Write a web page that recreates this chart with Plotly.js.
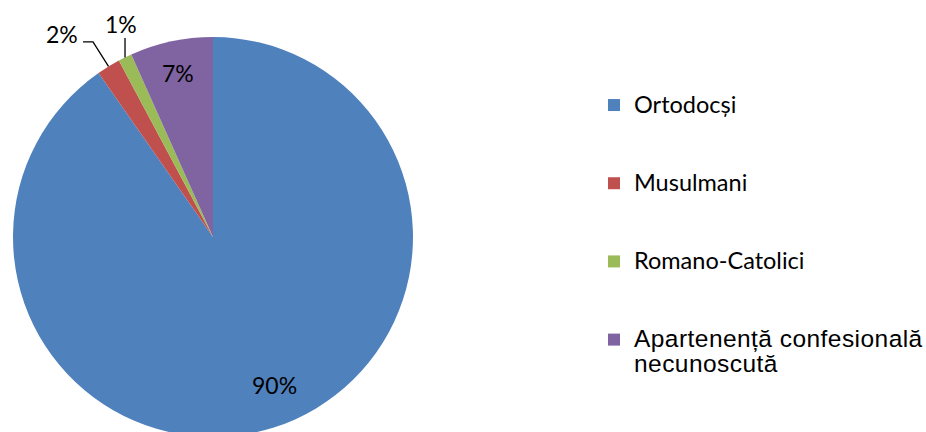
<!DOCTYPE html>
<html><head><meta charset="utf-8">
<script src="https://cdn.plot.ly/plotly-3.0.1.min.js"></script>
<style>html,body{margin:0;padding:0;overflow:hidden;background:#fff}#chart{width:926px;height:442px}</style>
</head><body><div id="chart"></div>
<script>
// ---- data ----
const categories = ['Ortodocși', 'Musulmani', 'Romano-Catolici', 'Apartenență confesională necunoscută'];
const shares = [90.3, 1.9, 1.1, 6.7];

// ---- style / layout ----
const sliceColors = ['#4F81BD', '#C0504D', '#9BBB59', '#8064A2'];
const W = 926, H = 442, CX = 213, CY = 237, R = 200;
const labelSpecs = [
  {mode: 'inside', rf: 0.80, dTheta: -5},
  {mode: 'outside', elbow: [-15.5, -24.5], end: [-25.5, -24.5], text: [-46.5, -32]},
  {mode: 'outside', elbow: null, end: [0, -19.4], text: [-4, -33.4]},
  {mode: 'inside', rf: 0.84, dTheta: 0}
];

const px = x => x / W;
const py = y => (H - y) / H;
const total = shares.reduce((a, b) => a + b, 0);

// legend labels: first three Calibri-like, last one Arial-like and wrapped
const legendLabels = categories.map((c, i) => {
  const last = i === categories.length - 1;
  const style = last ? 'font-family:Liberation Sans, Arial;font-size:24.5px;letter-spacing:0.45px' : 'font-size:23.5px';
  let lines = [c];
  if (c.length > 20) { const k = c.lastIndexOf(' '); lines = [c.slice(0, k), c.slice(k + 1)]; }
  let txt = lines.map(l => '<span style="' + style + '">' + l + '</span>').join('<br>');
  if (!last) txt += '<br> <br> ';
  return txt;
});

const annotations = [];
const shapes = [];
let cum = 0;
shares.forEach((v, i) => {
  const mid = (cum + v / 2) / total * 2 * Math.PI;
  cum += v;
  const spec = labelSpecs[i];
  const text = Math.round(v / total * 100) + '%';
  let lx, ly;
  if (spec.mode === 'inside') {
    const th = mid + spec.dTheta * Math.PI / 180;
    lx = CX + spec.rf * R * Math.sin(th);
    ly = CY - spec.rf * R * Math.cos(th);
  } else {
    const ex = CX + R * Math.sin(mid), ey = CY - R * Math.cos(mid);
    const pts = [[ex, ey]];
    if (spec.elbow) pts.push([ex + spec.elbow[0], ey + spec.elbow[1]]);
    pts.push([ex + spec.end[0], ey + spec.end[1]]);
    shapes.push({
      type: 'path', xref: 'paper', yref: 'paper',
      path: pts.map((p, k) => (k ? 'L' : 'M') + px(p[0]) + ',' + py(p[1])).join(' '),
      line: {color: '#000', width: 1.3}
    });
    lx = ex + spec.text[0];
    ly = ey + spec.text[1];
  }
  annotations.push({
    xref: 'paper', yref: 'paper', x: px(lx), y: py(ly), xanchor: 'center', yanchor: 'middle',
    text: text, showarrow: false, font: {family: 'Lato', size: 23, color: '#000'}
  });
});

const trace = {
  type: 'pie',
  labels: legendLabels,
  values: shares,
  sort: false,
  direction: 'clockwise',
  rotation: 0,
  textinfo: 'none',
  hoverinfo: 'label+percent',
  marker: {colors: sliceColors, line: {width: 0}},
  domain: {x: [px(CX - R), px(CX + R)], y: [py(CY + R), py(CY - R)]}
};

const layout = {
  width: W, height: H,
  margin: {l: 0, r: 0, t: 0, b: 0, autoexpand: false},
  paper_bgcolor: '#fff',
  showlegend: true,
  legend: {
    x: px(594), xanchor: 'left', y: py(86), yanchor: 'top',
    font: {family: 'Lato', size: 19.28, color: '#000'},
    valign: 'top', bgcolor: 'rgba(0,0,0,0)', traceorder: 'normal'
  },
  annotations: annotations,
  shapes: shapes
};

Plotly.newPlot('chart', [trace], layout, {displayModeBar: false, staticPlot: true});
</script>
</body></html>
